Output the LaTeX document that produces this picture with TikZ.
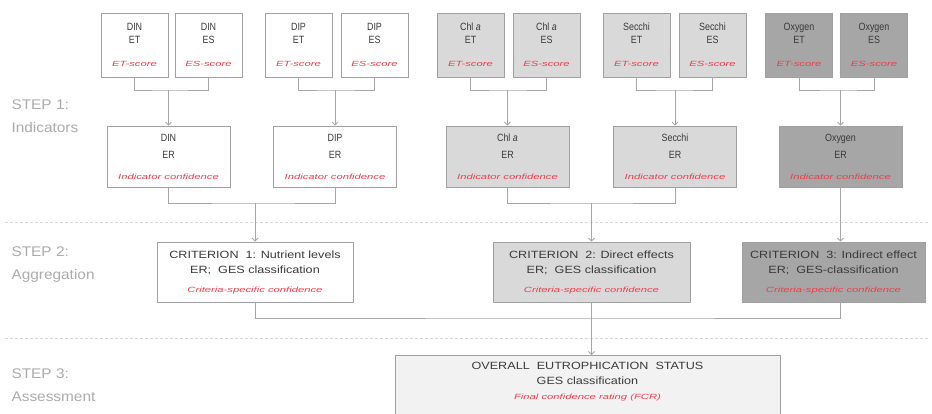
\documentclass[tikz,border=0pt]{standalone}
\usepackage{fontspec}
\setmainfont{Liberation Sans}
\newfontfamily\narrowfont[FakeStretch=0.85]{Liberation Sans}
\newfontfamily\widefont[FakeStretch=1.2]{Liberation Sans}
\newfontfamily\redfont[FakeStretch=1.5]{Liberation Sans}
\newfontfamily\stepfont[FakeStretch=1.1]{Liberation Sans}
\usetikzlibrary{arrows.meta}
\usetikzlibrary{positioning}

\definecolor{linegrey}{HTML}{A6A6A6}
\definecolor{boxgrey}{HTML}{A0A0A0}
\definecolor{textgrey}{HTML}{3A3A3A}
\definecolor{labelgrey}{HTML}{ABABAB}
\definecolor{confred}{HTML}{F03C4B}
\definecolor{lightfill}{HTML}{D9D9D9}
\definecolor{darkfill}{HTML}{A6A6A6}
\definecolor{palefill}{HTML}{F2F2F2}
\definecolor{sepgrey}{HTML}{D9D9D9}

\newcommand{\conf}[1]{{\redfont\itshape\fontsize{7.5}{9}\selectfont\color{confred}#1}}

\tikzset{line/.style={draw=linegrey, line width=0.8pt}}
\tikzset{arr/.style={line, -{Straight Barb[length=3pt,width=6pt]}}}
\tikzset{separator/.style={draw=sepgrey, line width=0.8pt, dash pattern=on 3pt off 2pt}}

\begin{document}
\begin{tikzpicture}[x=1pt, y=-1pt]
	% Default look for each box
	\tikzstyle{box}=[draw=boxgrey, line width=0.8pt, shape=rectangle, align=center, text=textgrey, inner sep=0pt]
	\tikzstyle{scorebox}=[box, minimum width=67pt, minimum height=64pt, font=\narrowfont\fontsize{10.5}{13}\selectfont]
	\tikzstyle{erbox}=[box, minimum width=123pt, minimum height=61pt, font=\narrowfont\fontsize{10.5}{17}\selectfont]
	\tikzstyle{critbox}=[box, minimum height=60pt, font=\widefont\fontsize{10.5}{15}\selectfont]
	\tikzstyle{steplabel}=[anchor=west, align=left, text=labelgrey, font=\stepfont\fontsize{14}{23}\selectfont]

	\useasboundingbox (0,0) rectangle (932,413);

	% Step labels
	\node[steplabel] (step1) at (8,116) {STEP 1:\\Indicators};
	\node[steplabel] (step2) at (8,265) {STEP 2:\\Aggregation};
	\node[steplabel] (step3) at (8,385) {STEP 3:\\Assessment};

	% Separators
	\draw[separator] (5,222) -- (930,222);
	\draw[separator] (5,338) -- (930,338);

	% Scores
	\node[scorebox, fill=white] (dinET) at (134.5,45) {DIN\\ET\\[10pt]\conf{ET-score}};
	\node[scorebox, fill=white] (dinES) at (208.5,45) {DIN\\ES\\[10pt]\conf{ES-score}};
	\node[scorebox, fill=white] (dipET) at (298.5,45) {DIP\\ET\\[10pt]\conf{ET-score}};
	\node[scorebox, fill=white] (dipES) at (374.5,45) {DIP\\ES\\[10pt]\conf{ES-score}};
	\node[scorebox, fill=lightfill] (chlET) at (470.5,45) {Chl \textit{a}\\ET\\[10pt]\conf{ET-score}};
	\node[scorebox, fill=lightfill] (chlES) at (546.5,45) {Chl \textit{a}\\ES\\[10pt]\conf{ES-score}};
	\node[scorebox, fill=lightfill] (secET) at (636.5,45) {Secchi\\ET\\[10pt]\conf{ET-score}};
	\node[scorebox, fill=lightfill] (secES) at (712.5,45) {Secchi\\ES\\[10pt]\conf{ES-score}};
	\node[scorebox, fill=darkfill] (oxyET) at (799,45) {Oxygen\\ET\\[10pt]\conf{ET-score}};
	\node[scorebox, fill=darkfill] (oxyES) at (874,45) {Oxygen\\ES\\[10pt]\conf{ES-score}};

	% Indicators
	\node[erbox, fill=white] (dinER) at (168.5,156.5) {DIN\\ER\\[4pt]\conf{Indicator confidence}};
	\node[erbox, fill=white] (dipER) at (335,156.5) {DIP\\ER\\[4pt]\conf{Indicator confidence}};
	\node[erbox, fill=lightfill] (chlER) at (507.5,156.5) {Chl \textit{a}\\ER\\[4pt]\conf{Indicator confidence}};
	\node[erbox, fill=lightfill] (secER) at (675,156.5) {Secchi\\ER\\[4pt]\conf{Indicator confidence}};
	\node[erbox, fill=darkfill] (oxyER) at (840.5,156.5) {Oxygen\\ER\\[4pt]\conf{Indicator confidence}};

	% Criteria
	\node[critbox, fill=white, minimum width=196pt] (crit1) at (255,272) {CRITERION\ \ 1: Nutrient levels\\ER;\ \ GES classification\\[4pt]\conf{Criteria-specific confidence}};
	\node[critbox, fill=lightfill, minimum width=197pt] (crit2) at (591.5,272) {CRITERION\ \ 2: Direct effects\\ER;\ \ GES classification\\[4pt]\conf{Criteria-specific confidence}};
	\node[critbox, fill=darkfill, minimum width=183pt] (crit3) at (833.5,272) {CRITERION\ \ 3: Indirect effect\\ER;\ \ GES-classification\\[4pt]\conf{Criteria-specific confidence}};

	% Assessment
	\node[critbox, fill=palefill, minimum width=385pt, anchor=north, inner ysep=6.5pt, text depth=40pt] (overall) at (587.5,355) {OVERALL\ \ EUTROPHICATION\ \ STATUS\\GES classification\\\conf{Final confidence rating (FCR)}};

	% Join points
	\coordinate (dinjoin) at (168.5,90);
	\coordinate (dipjoin) at (335,90);
	\coordinate (chljoin) at (507.5,90);
	\coordinate (secjoin) at (675,90);
	\coordinate (oxyjoin) at (840.5,90);
	\coordinate (nutjoin) at (255,203);
	\coordinate (dirjoin) at (591.5,203);
	\coordinate (alljoin) at (591.5,318);
	\coordinate (indout) at (crit3.south -| oxyER.south);

	% Scores to indicators
	\draw[line] (dinET.south) |- (dinjoin) -| (dinES.south);
	\draw[arr] (dinjoin) -- (dinER.north);
	\draw[line] (dipET.south) |- (dipjoin) -| (dipES.south);
	\draw[arr] (dipjoin) -- (dipER.north);
	\draw[line] (chlET.south) |- (chljoin) -| (chlES.south);
	\draw[arr] (chljoin) -- (chlER.north);
	\draw[line] (secET.south) |- (secjoin) -| (secES.south);
	\draw[arr] (secjoin) -- (secER.north);
	\draw[line] (oxyET.south) |- (oxyjoin) -| (oxyES.south);
	\draw[arr] (oxyjoin) -- (oxyER.north);

	% Indicators to criteria
	\draw[line] (dinER.south) |- (nutjoin) -| (dipER.south);
	\draw[arr] (nutjoin) -- (crit1.north);
	\draw[line] (chlER.south) |- (dirjoin) -| (secER.south);
	\draw[arr] (dirjoin) -- (crit2.north);
	\draw[arr] (oxyER.south) -- (crit3.north -| oxyER.south);

	% Criteria to assessment
	\draw[line] (crit1.south) |- (alljoin) -| (indout);
	\draw[arr] (crit2.south) -- (crit2.south |- overall.north);
\end{tikzpicture}
\end{document}
